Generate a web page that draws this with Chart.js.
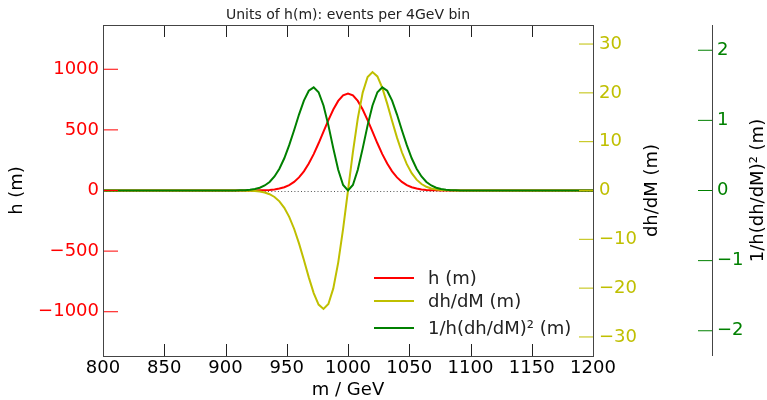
<!DOCTYPE html>
<html>
<head>
<meta charset="utf-8">
<script src="https://cdn.jsdelivr.net/npm/chart.js@4/dist/chart.umd.min.js"></script>
<style>
  html, body { margin: 0; padding: 0; background: #fff; }
</style>
</head>
<body>
<canvas id="massChart" width="767" height="400"></canvas>
<script>
// mass bins (GeV), 4 GeV wide
const masses = [800,
  900, 904, 908, 912, 916, 920, 924, 928, 932, 936, 940, 944, 948, 952, 956, 960, 964, 968, 972, 976, 980, 984, 988, 992, 996,
  1000,
  1004, 1008, 1012, 1016, 1020, 1024, 1028, 1032, 1036, 1040, 1044, 1048, 1052, 1056, 1060, 1064, 1068, 1072, 1076, 1080, 1084, 1088, 1092, 1096, 1100,
  1200];

// h(m): events per bin
const hValues = [0,
  0, 0.01, 0.02, 0.05, 0.12, 0.27, 0.58, 1.23, 2.47, 4.78, 8.89, 15.87, 27.24, 44.91, 71.14, 108.27, 158.32, 222.43, 300.25, 389.40, 485.22, 580.92, 668.22, 738.49, 784.16,
  800,
  784.16, 738.49, 668.22, 580.92, 485.22, 389.40, 300.25, 222.43, 158.32, 108.27, 71.14, 44.91, 27.24, 15.87, 8.89, 4.78, 2.47, 1.23, 0.58, 0.27, 0.12, 0.05, 0.02, 0.01, 0,
  0];

// dh/dM
const dhValues = [0,
  0, 0, -0.01, -0.01, -0.03, -0.05, -0.11, -0.22, -0.42, -0.76, -1.33, -2.22, -3.54, -5.39, -7.83, -10.83, -14.25, -17.79, -21.02, -23.36, -24.26, -23.24, -20.05, -14.77, -7.84,
  0,
  7.84, 14.77, 20.05, 23.24, 24.26, 23.36, 21.02, 17.79, 14.25, 10.83, 7.83, 5.39, 3.54, 2.22, 1.33, 0.76, 0.42, 0.22, 0.11, 0.05, 0.03, 0.01, 0.01, 0, 0,
  0];

// 1/h (dh/dM)^2
const ratioValues = [0,
  0, 0, 0, 0.002, 0.005, 0.011, 0.021, 0.040, 0.072, 0.122, 0.200, 0.311, 0.460, 0.647, 0.860, 1.083, 1.282, 1.423, 1.471, 1.402, 1.213, 0.929, 0.601, 0.295, 0.078,
  0,
  0.078, 0.295, 0.601, 0.929, 1.213, 1.402, 1.471, 1.423, 1.282, 1.083, 0.860, 0.647, 0.460, 0.311, 0.200, 0.122, 0.072, 0.040, 0.021, 0.011, 0.005, 0.002, 0, 0, 0,
  0];

const xTicks = [800, 850, 900, 950, 1000, 1050, 1100, 1150, 1200];
const hTicks = [-1000, -500, 0, 500, 1000];
const dhTicks = [-30, -20, -10, 0, 10, 20, 30];
const ratioTicks = [-2, -1, 0, 1, 2];

const RED = "#ff0000";
const YELLOW = "#bfbf00";
const GREEN = "#008000";
const FONT = "DejaVu Sans";

const fmt = v => String(v).replace("-", "\u2212");
const toPoints = vals => masses.map((m, i) => ({ x: m, y: vals[i] }));
const setTicks = list => scale => { scale.ticks = list.map(v => ({ value: v })); };
const noGrid = { display: false, drawTicks: false };

// inward tick marks, frame, zero line, right-hand titles and legend
const decorations = {
    id: "decorations",
    beforeDatasetsDraw(chart) {
        const { ctx, chartArea: a, scales } = chart;
        const y0 = Math.round(scales.y.getPixelForValue(0)) + 0.5;
        ctx.save();
        ctx.strokeStyle = "#555";
        ctx.lineWidth = 1;
        ctx.setLineDash([1, 2.3]);
        ctx.beginPath();
        ctx.moveTo(a.left, y0);
        ctx.lineTo(a.right, y0);
        ctx.stroke();
        ctx.restore();
    },
    afterDraw(chart) {
        const { ctx, chartArea: a, scales } = chart;
        ctx.save();
        ctx.lineWidth = 1;

        // ticks
        ctx.strokeStyle = "#222";
        xTicks.forEach(v => {
            const px = Math.round(scales.x.getPixelForValue(v)) + 0.5;
            ctx.beginPath();
            ctx.moveTo(px, a.top); ctx.lineTo(px, a.top + 12);
            ctx.moveTo(px, a.bottom); ctx.lineTo(px, a.bottom - 12);
            ctx.stroke();
        });
        ctx.strokeStyle = RED;
        hTicks.forEach(v => {
            const py = scales.y.getPixelForValue(v);
            ctx.beginPath(); ctx.moveTo(a.left, py); ctx.lineTo(a.left + 15, py); ctx.stroke();
        });
        ctx.strokeStyle = YELLOW;
        dhTicks.forEach(v => {
            const py = scales.y2.getPixelForValue(v);
            ctx.beginPath(); ctx.moveTo(a.right - 14, py); ctx.lineTo(a.right, py); ctx.stroke();
        });
        const x3 = scales.y3.left;
        ctx.strokeStyle = GREEN;
        ratioTicks.forEach(v => {
            const py = scales.y3.getPixelForValue(v);
            ctx.beginPath(); ctx.moveTo(x3 - 14, py); ctx.lineTo(x3, py); ctx.stroke();
        });

        // frame + third spine
        ctx.strokeStyle = "#444";
        ctx.strokeRect(a.left + 0.5, a.top + 0.5, a.right - a.left, a.bottom - a.top);
        ctx.beginPath();
        ctx.moveTo(x3 + 0.5, a.top); ctx.lineTo(x3 + 0.5, a.bottom);
        ctx.stroke();

        // right axis titles, reading bottom to top
        ctx.fillStyle = "#000";
        ctx.font = "18px '" + FONT + "'";
        ctx.textAlign = "center";
        ctx.textBaseline = "middle";
        const midY = (a.top + a.bottom) / 2;
        [["dh/dM (m)", a.right + 59], ["1/h(dh/dM)\u00b2 (m)", x3 + 46]].forEach(([txt, tx]) => {
            ctx.save();
            ctx.translate(tx, midY);
            ctx.rotate(-Math.PI / 2);
            ctx.fillText(txt, 0, 0);
            ctx.restore();
        });

        // legend
        const rows = [a.bottom - 78, a.bottom - 55, a.bottom - 28];
        ctx.textAlign = "left";
        ctx.fillStyle = "#222";
        chart.data.datasets.forEach((ds, i) => {
            ctx.strokeStyle = ds.borderColor;
            ctx.lineWidth = 2;
            ctx.beginPath();
            ctx.moveTo(a.right - 219, rows[i]);
            ctx.lineTo(a.right - 179, rows[i]);
            ctx.stroke();
            ctx.fillText(ds.label, a.right - 165, rows[i] + 1);
        });
        ctx.restore();
    }
};

const ctx = document.getElementById("massChart").getContext("2d");
new Chart(ctx, {
    type: "line",
    data: {
        datasets: [{
            label: "h (m)",
            data: toPoints(hValues),
            yAxisID: "y",
            borderColor: RED,
            borderWidth: 2,
            pointRadius: 0,
            tension: 0,
            order: 3,
        }, {
            label: "dh/dM (m)",
            data: toPoints(dhValues),
            yAxisID: "y2",
            borderColor: YELLOW,
            borderWidth: 2,
            pointRadius: 0,
            tension: 0,
            order: 2,
        }, {
            label: "1/h(dh/dM)\u00b2 (m)",
            data: toPoints(ratioValues),
            yAxisID: "y3",
            borderColor: GREEN,
            borderWidth: 2,
            pointRadius: 0,
            tension: 0,
            order: 1,
        }],
    },
    options: {
        responsive: false,
        animation: false,
        layout: { padding: 0 },
        plugins: {
            legend: { display: false },
            tooltip: { enabled: false },
            title: {
                display: true,
                text: "Units of h(m): events per 4GeV bin",
                fullSize: false,
                color: "#222",
                font: { family: FONT, size: 14, weight: "normal" },
                padding: { top: 6.6, bottom: 1.6 },
            },
        },
        scales: {
            x: {
                type: "linear",
                min: 800,
                max: 1200,
                afterBuildTicks: setTicks(xTicks),
                afterFit: s => { s.height = 44; },
                grid: noGrid,
                border: { display: false },
                ticks: { color: "#000", font: { family: FONT, size: 18 }, padding: 2, maxRotation: 0, callback: fmt },
                title: { display: true, text: "m / GeV", color: "#000", font: { family: FONT, size: 18, lineHeight: 1.1 }, padding: { top: 0, bottom: 0 } },
            },
            y: {
                position: "left",
                min: -1365,
                max: 1365,
                afterBuildTicks: setTicks(hTicks),
                afterFit: s => { s.width = 103; },
                grid: noGrid,
                border: { display: false },
                ticks: { color: RED, font: { family: FONT, size: 18 }, padding: 4, callback: fmt },
                title: { display: true, text: "h (m)", color: "#000", font: { family: FONT, size: 18 }, padding: { top: 7, bottom: 0 } },
            },
            y2: {
                position: "right",
                min: -33.9,
                max: 33.9,
                afterBuildTicks: setTicks(dhTicks),
                afterFit: s => { s.width = 119; },
                grid: noGrid,
                border: { display: false },
                ticks: { color: YELLOW, font: { family: FONT, size: 18 }, padding: 6, callback: fmt },
            },
            y3: {
                position: "right",
                min: -2.36,
                max: 2.36,
                afterBuildTicks: setTicks(ratioTicks),
                afterFit: s => { s.width = 55; },
                grid: noGrid,
                border: { display: false },
                ticks: { color: GREEN, font: { family: FONT, size: 18 }, padding: 5, callback: fmt },
            },
        },
    },
    plugins: [decorations],
});
</script>
</body>
</html>
